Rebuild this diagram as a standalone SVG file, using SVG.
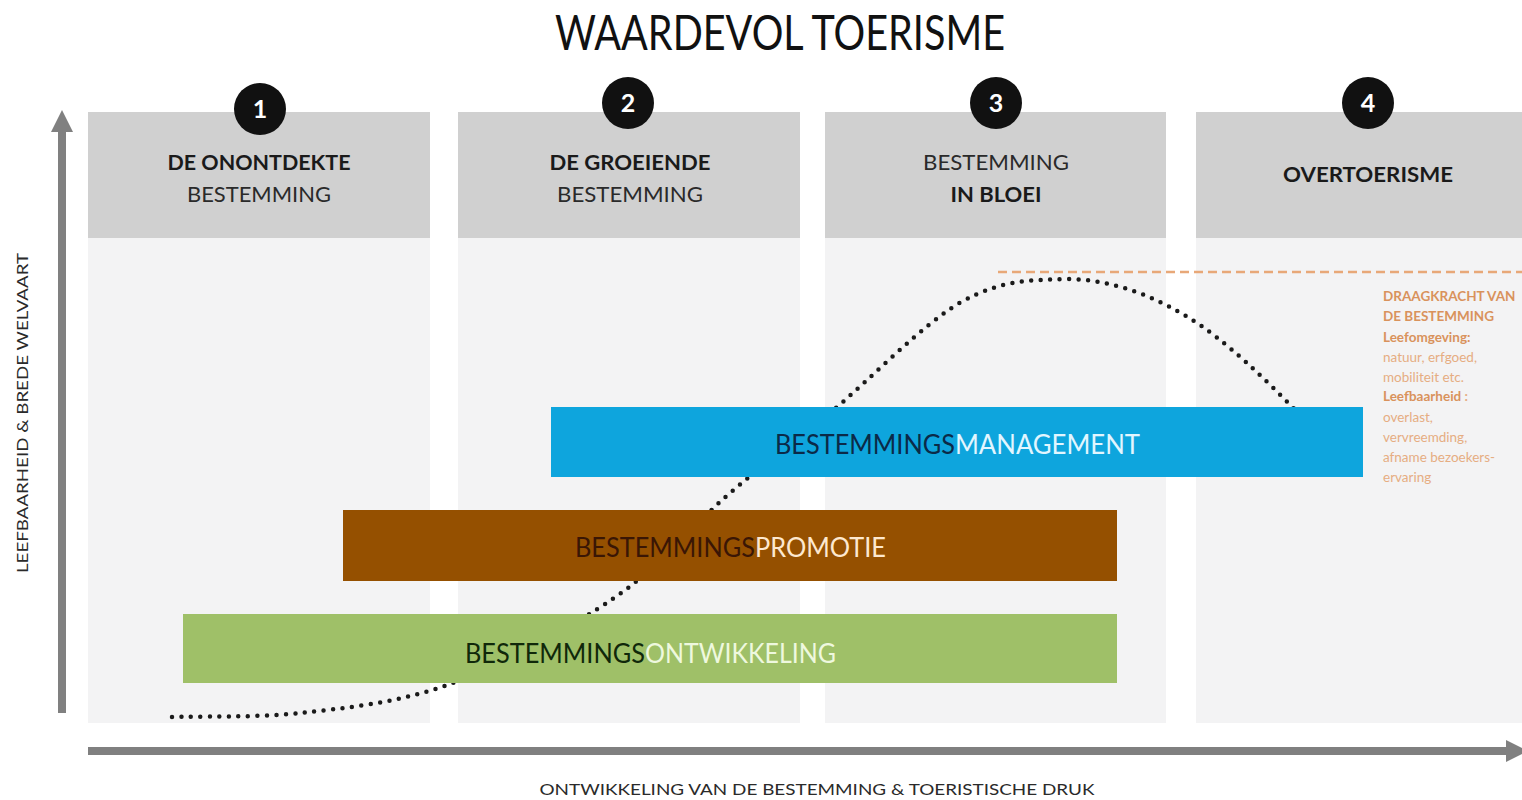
<svg xmlns="http://www.w3.org/2000/svg" width="1522" height="800" viewBox="0 0 1522 800">
  <style>
    text { font-family: Lato, "Open Sans", "Noto Sans", "DejaVu Sans", sans-serif; }
    .head { fill: #d0d0d0; }
    .body { fill: #f3f3f4; }
    .num-bg { fill: #111111; }
    .num { fill: #ffffff; font-size: 25px; font-weight: bold; text-anchor: middle; }
    .hb { fill: #1a1a1a; font-size: 21px; font-weight: bold; text-anchor: middle; }
    .hr { fill: #2a2a2a; font-size: 21px; text-anchor: middle; }
    .bar-t { font-size: 26px; }
    .axis { fill: #808080; }
    .axis-label { fill: #2a2a2a; font-size: 16px; text-anchor: middle; }
    .note-b { fill: #d9925c; font-size: 13.5px; font-weight: bold; }
    .note-r { fill: #e6ad82; font-size: 13.5px; }
  </style>

  <rect width="1522" height="800" fill="#ffffff"/>

  <!-- title -->
  <text x="780" y="50" font-size="48" fill="#111111" text-anchor="middle" textLength="450" lengthAdjust="spacingAndGlyphs">WAARDEVOL TOERISME</text>

  <!-- phase 1 -->
  <g id="phase-1">
    <rect class="body" x="88" y="238" width="342" height="485"/>
    <rect class="head" x="88" y="112" width="342" height="126"/>
    <circle class="num-bg" cx="260" cy="109" r="26"/>
    <text class="num" x="260" y="118">1</text>
    <text class="hb" x="259" y="170" textLength="183" lengthAdjust="spacingAndGlyphs">DE ONONTDEKTE</text>
    <text class="hr" x="259" y="202" textLength="144" lengthAdjust="spacingAndGlyphs">BESTEMMING</text>
  </g>

  <!-- phase 2 -->
  <g id="phase-2">
    <rect class="body" x="458" y="238" width="342" height="485"/>
    <rect class="head" x="458" y="112" width="342" height="126"/>
    <circle class="num-bg" cx="628" cy="103" r="26"/>
    <text class="num" x="628" y="112">2</text>
    <text class="hb" x="630" y="170" textLength="161" lengthAdjust="spacingAndGlyphs">DE GROEIENDE</text>
    <text class="hr" x="630" y="202" textLength="146" lengthAdjust="spacingAndGlyphs">BESTEMMING</text>
  </g>

  <!-- phase 3 -->
  <g id="phase-3">
    <rect class="body" x="825" y="238" width="341" height="485"/>
    <rect class="head" x="825" y="112" width="341" height="126"/>
    <circle class="num-bg" cx="996" cy="103" r="26"/>
    <text class="num" x="996" y="112">3</text>
    <text class="hr" x="996" y="170" textLength="146" lengthAdjust="spacingAndGlyphs">BESTEMMING</text>
    <text class="hb" x="996" y="202" textLength="91" lengthAdjust="spacingAndGlyphs">IN BLOEI</text>
  </g>

  <!-- phase 4 -->
  <g id="phase-4">
    <rect class="body" x="1196" y="238" width="326" height="485"/>
    <rect class="head" x="1196" y="112" width="326" height="126"/>
    <circle class="num-bg" cx="1368" cy="103" r="26"/>
    <text class="num" x="1368" y="112">4</text>
    <text class="hb" x="1368" y="182" textLength="170" lengthAdjust="spacingAndGlyphs">OVERTOERISME</text>
  </g>

  <!-- carrying capacity line and note -->
  <g id="draagkracht">
    <line x1="998" y1="272" x2="1522" y2="272" stroke="#e8a878" stroke-width="2.5" stroke-dasharray="9 5"/>
    <text class="note-b" x="1383" y="301">DRAAGKRACHT VAN</text>
    <text class="note-b" x="1383" y="321">DE BESTEMMING</text>
    <text class="note-b" x="1383" y="342">Leefomgeving:</text>
    <text class="note-r" x="1383" y="362">natuur, erfgoed,</text>
    <text class="note-r" x="1383" y="382">mobiliteit etc.</text>
    <text class="note-b" x="1383" y="401">Leefbaarheid<tspan class="note-r"> :</tspan></text>
    <text class="note-r" x="1383" y="422">overlast,</text>
    <text class="note-r" x="1383" y="442">vervreemding,</text>
    <text class="note-r" x="1383" y="462">afname bezoekers-</text>
    <text class="note-r" x="1383" y="482">ervaring</text>
  </g>

  <!-- development curve (dotted) -->
  <g id="connectors">
    <path d="M172,717 C193,716 254,718 300,713 C346,708 398,703 450,684 C502,665 567,630 614,598 C661,566 694,524 730,493 C766,462 792,444 831,412 C870,380 923,323 963,301 C1003,279 1034,280 1070,279 C1108,280 1146,292 1186,316 C1226,340 1266,380 1305,420"
          fill="none" stroke="#1a1a1a" stroke-width="4.5" stroke-linecap="round" stroke-dasharray="0 9.5"/>
  </g>

  <!-- bars -->
  <g id="bar-management">
    <rect x="551" y="407" width="812" height="70" fill="#0ea5dd"/>
    <text class="bar-t" x="775" y="454" fill="#0b2a48" textLength="180" lengthAdjust="spacingAndGlyphs">BESTEMMINGS</text>
    <text class="bar-t" x="955" y="454" fill="#e2f6ff" textLength="185" lengthAdjust="spacingAndGlyphs">MANAGEMENT</text>
  </g>
  <g id="bar-promotie">
    <rect x="343" y="510" width="774" height="71" fill="#955000"/>
    <text class="bar-t" x="575" y="557" fill="#3a1605" textLength="180" lengthAdjust="spacingAndGlyphs">BESTEMMINGS</text>
    <text class="bar-t" x="755" y="557" fill="#fde8cf" textLength="131" lengthAdjust="spacingAndGlyphs">PROMOTIE</text>
  </g>
  <g id="bar-ontwikkeling">
    <rect x="183" y="614" width="934" height="69" fill="#9fc068"/>
    <text class="bar-t" x="465" y="663" fill="#10280a" textLength="180" lengthAdjust="spacingAndGlyphs">BESTEMMINGS</text>
    <text class="bar-t" x="645" y="663" fill="#eef8de" textLength="191" lengthAdjust="spacingAndGlyphs">ONTWIKKELING</text>
  </g>

  <!-- axes -->
  <g id="axis-y">
    <rect class="axis" x="58" y="128" width="8" height="585"/>
    <polygon class="axis" points="51,132 73,132 62,110"/>
    <text class="axis-label" transform="translate(28,413) rotate(-90)" textLength="320" lengthAdjust="spacingAndGlyphs">LEEFBAARHEID &amp; BREDE WELVAART</text>
  </g>
  <g id="axis-x">
    <rect class="axis" x="88" y="747" width="1420" height="8"/>
    <polygon class="axis" points="1506,740 1506,762 1528,751"/>
    <text class="axis-label" x="817" y="795" textLength="555" lengthAdjust="spacingAndGlyphs">ONTWIKKELING VAN DE BESTEMMING &amp; TOERISTISCHE DRUK</text>
  </g>
</svg>
